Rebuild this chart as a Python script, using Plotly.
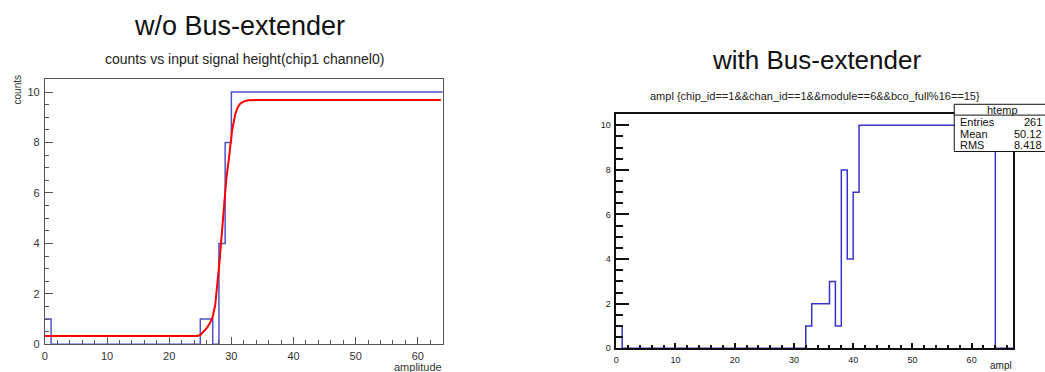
import plotly.graph_objects as go

W, H = 1045, 372
FONT = "Liberation Sans, Arial, Helvetica, sans-serif"

# ---- left panel: amplitude scan without the bus extender ----
left_edges = list(range(0, 65))            # 64 bins of width 1
left_counts = ([1] + [0] * 24 + [1, 1, 0, 4, 8] + [10] * 34)

# error-function fit overlaid on the scan
fit_x = [0, 24.5, 25.0, 25.5, 26.0, 26.5, 27.0, 27.4, 27.8, 28.1, 28.5, 28.9,
         29.2, 29.6, 30.1, 30.6, 31.0, 31.4, 32.0, 32.8, 34.0, 63.7]
fit_y = [0.33, 0.33, 0.37, 0.48, 0.63, 0.82, 1.1, 1.56, 2.45, 3.3, 4.5, 5.9,
         6.6, 7.35, 8.45, 9.1, 9.38, 9.54, 9.63, 9.67, 9.68, 9.68]

# ---- right panel: same channel with the bus extender ----
right_edges = list(range(0, 68))           # 67 bins of width 1
right_counts = ([1] + [0] * 31 + [1, 2, 2, 2, 3, 1, 8, 4, 7] + [10] * 23 + [0, 0, 0])

stats_labels = ["Entries", "Mean", "RMS"]
stats_values = ["261", "50.12", "8.418"]


def px_x(p):
    return p / W


def px_y(p):
    return (H - p) / H


def step(edges, counts):
    # histogram outline drawn as a horizontal-then-vertical step
    return list(edges), list(counts) + [counts[-1]]


fig = go.Figure()

lx, ly = step(left_edges, left_counts)
fig.add_trace(go.Scatter(x=lx, y=ly, mode="lines", line=dict(shape="hv", color="#5050c8", width=1.5),
                         xaxis="x", yaxis="y", showlegend=False, hoverinfo="skip"))
fig.add_trace(go.Scatter(x=fit_x, y=fit_y, mode="lines", line=dict(color="#ff0000", width=2),
                         xaxis="x", yaxis="y", showlegend=False, hoverinfo="skip"))

rx, ry = step(right_edges, right_counts)
fig.add_trace(go.Scatter(x=rx, y=ry, mode="lines", line=dict(shape="hv", color="#3434cc", width=1.5),
                         xaxis="x2", yaxis="y2", showlegend=False, hoverinfo="skip"))


def axis(domain, rng, dtick, mdtick, tlen, mlen, color, lw, fsize, fcolor, anchor, standoff):
    return dict(domain=domain, range=rng, tick0=0, dtick=dtick, ticks="inside",
                ticklen=tlen, tickwidth=lw, tickcolor=color,
                minor=dict(ticks="inside", dtick=mdtick, tick0=0, ticklen=mlen,
                           tickwidth=lw, tickcolor=color, showgrid=False),
                showline=True, linecolor=color, linewidth=lw, mirror=True,
                showgrid=False, zeroline=False, anchor=anchor,
                tickfont=dict(family=FONT, size=fsize, color=fcolor),
                ticklabelstandoff=standoff, fixedrange=True)


left_xd = [px_x(42), px_x(441)]
left_yd = [px_y(350), px_y(80.7)]
right_xd = [px_x(615), px_x(1013)]
right_yd = [px_y(354), px_y(116)]

fig.update_layout(
    width=W, height=H,
    margin=dict(l=0, r=0, t=0, b=0),
    paper_bgcolor="white", plot_bgcolor="white",
    xaxis=axis(left_xd, [0, 64], 10, 2, 7, 4, "#555555", 1, 11, "#333333", "y", 1),
    yaxis=axis(left_yd, [0, 10.5], 2, 0.5, 8, 4, "#555555", 1, 11, "#333333", "x", 2),
    xaxis2=axis(right_xd, [0, 67], 10, 2, 6, 3.5, "#111111", 1.5, 9, "#222222", "y2", 2),
    yaxis2=axis(right_yd, [0, 10.5], 2, 0.5, 13, 7, "#111111", 1.5, 9, "#222222", "x2", 2),
)

ann = []


def text(x, y, s, size, xanchor="center", yanchor="middle", angle=0, color="#111111"):
    ann.append(dict(x=px_x(x), y=px_y(y), xref="paper", yref="paper", text=s, showarrow=False,
                    xanchor=xanchor, yanchor=yanchor, textangle=angle, borderpad=0,
                    font=dict(family=FONT, size=size, color=color)))


text(237.5, 26, "w/o Bus-extender", 27)
text(242, 60, "counts vs input signal height(chip1 channel0)", 14, color="#222222")
text(15, 91, "counts", 10, angle=-90, color="#333333")
text(441, 365.5, "amplitude", 11, xanchor="right", yanchor="top", color="#333333")

text(816, 61, "with Bus-extender", 26)
text(814.5, 97.5, "ampl {chip_id==1&&chan_id==1&&module==6&&bco_full%16==15}", 11, color="#222222")
text(1013, 364.5, "ampl", 10, xanchor="right", yanchor="top", color="#222222")

# statistics box
box_l, box_r, box_t, box_b, head_b = 954, 1051, 106, 154, 117
shapes = [
    dict(type="rect", xref="paper", yref="paper", x0=px_x(box_l), x1=px_x(box_r),
         y0=px_y(box_b), y1=px_y(box_t), line=dict(color="#111111", width=1), fillcolor="white"),
    dict(type="line", xref="paper", yref="paper", x0=px_x(box_l), x1=px_x(box_r),
         y0=px_y(head_b), y1=px_y(head_b), line=dict(color="#111111", width=1)),
]
text((box_l + box_r) / 2, 111.5, "htemp", 11)
for i, (lab, val) in enumerate(zip(stats_labels, stats_values)):
    yy = 124.5 + i * 11.5
    text(box_l + 5, yy, lab, 11, xanchor="left")
    text(1043, yy, val, 11, xanchor="right")

fig.update_layout(annotations=ann, shapes=shapes)

fig.write_html("out.html")
